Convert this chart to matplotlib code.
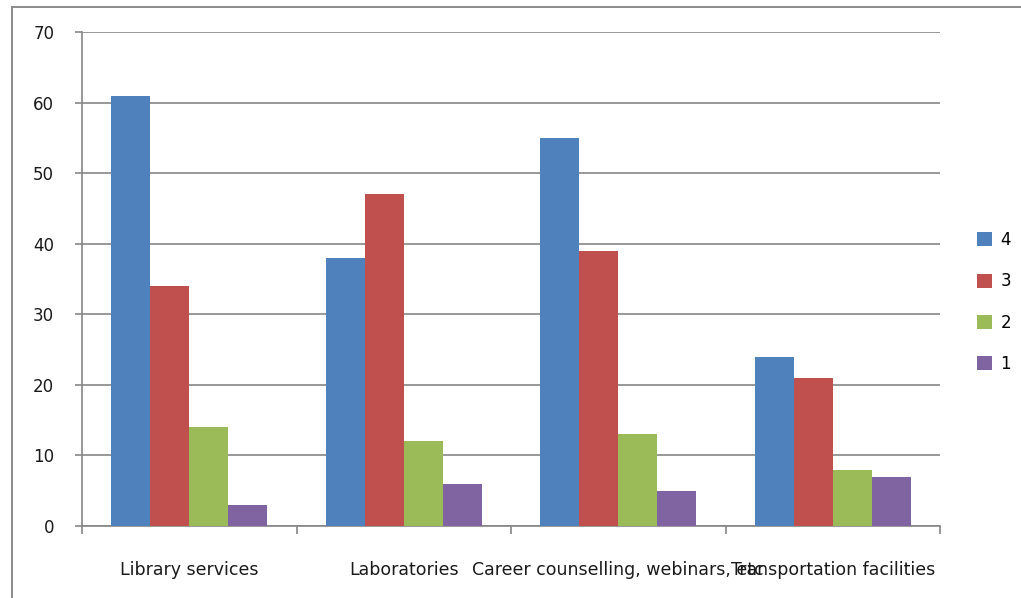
import numpy as np
import matplotlib
matplotlib.use("Agg")
import matplotlib.pyplot as plt
from matplotlib.patches import Rectangle

categories = ["Library services", "Laboratories", "Career counselling, webinars, etc",
              "Transportation facilities"]
series_names = ["4", "3", "2", "1"]
vals_4 = [61, 38, 55, 24]
vals_3 = [34, 47, 39, 21]
vals_2 = [14, 12, 13, 8]
vals_1 = [3, 6, 5, 7]
colors = ["#4F81BD", "#C0504D", "#9BBB59", "#8064A2"]

plt.rcParams["font.family"] = ["DejaVu Sans"]

fig = plt.figure(figsize=(10.21, 5.98), dpi=100)
ax = fig.add_axes([82 / 1021, 1 - 526 / 598, (940 - 82) / 1021, (526 - 32) / 598])

# outer chart border (only top and left edges visible, rest cut off)
fig.patches.append(Rectangle((12 / 1021, -10 / 598), 1030 / 1021, 601 / 598,
                             transform=fig.transFigure, fill=False,
                             edgecolor="#8c8c8c", linewidth=1.4))

x = np.arange(len(categories))
w = 0.182
all_vals = [vals_4, vals_3, vals_2, vals_1]
for i, (name, v) in enumerate(zip(series_names, all_vals)):
    ax.bar(x + (i - 1.5) * w, v, width=w, color=colors[i], label=name, zorder=3)

ax.set_xlim(-0.5, len(categories) - 0.5)
ax.set_ylim(0, 70)
ax.set_yticks(range(0, 71, 10))
ax.yaxis.grid(True, color="#868686", linewidth=1.2, zorder=0)
ax.set_axisbelow(True)

for s in ["top", "right"]:
    ax.spines[s].set_visible(False)
ax.spines["left"].set_color("#868686")
ax.spines["bottom"].set_color("#868686")
ax.spines["left"].set_linewidth(1.2)
ax.spines["bottom"].set_linewidth(1.2)

# category boundary ticks
ax.set_xticks(np.arange(-0.5, len(categories), 1.0))
ax.set_xticklabels([])
ax.tick_params(axis="x", length=6, color="#868686", width=1.2)
ax.set_xticks(x, minor=True)
ax.set_xticklabels(categories, minor=True, fontsize=12.5, color="#1a1a1a")
ax.tick_params(axis="x", which="minor", length=0, pad=25)
ax.tick_params(axis="y", length=5, color="#868686", width=1.2, labelsize=12,
               labelcolor="#1a1a1a", pad=15)

leg = fig.legend(loc="upper left", bbox_to_anchor=(962 / 1021, 1 - 216 / 598),
                 frameon=False, fontsize=12, handlelength=0.9, handleheight=0.9,
                 labelspacing=1.4, handletextpad=0.5)

fig.savefig("out.png", dpi=100)
